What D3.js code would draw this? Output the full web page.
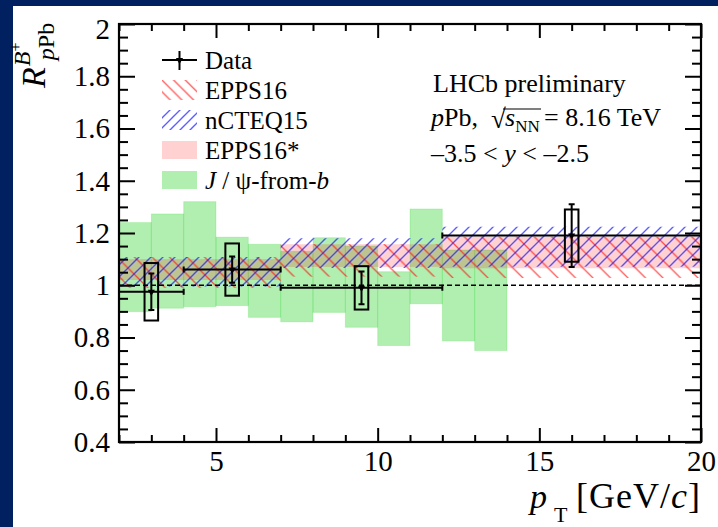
<!DOCTYPE html>
<html>
<head>
<meta charset="utf-8">
<script src="https://cdnjs.cloudflare.com/ajax/libs/d3/7.8.5/d3.min.js"></script>
<style>
body { margin: 0; background: #002060; }
svg { display: block; }
text { font-family: "Liberation Serif", "Times New Roman", serif; fill: #000; white-space: pre; }
</style>
</head>
<body>
<svg id="chart"></svg>
<script>
// ---- values ----
// LHCb B+ data points
var dataPt   = [3, 5.5, 9.5, 16];
var dataLo   = [2, 4, 7, 12];
var dataHi   = [4, 7, 12, 20];
var dataVal  = [0.975, 1.06, 0.99, 1.19];
var dataStat = [0.07, 0.05, 0.063, 0.12];
var dataSyst = [0.11, 0.10, 0.083, 0.10];

// theory bands (three pT bins)
var thLo = [2, 7, 12];
var thHi = [7, 12, 20];
var eppsStarLow  = [1.02, 1.07, 1.065];
var eppsStarHigh = [1.10, 1.157, 1.186];
var eppsLow  = [0.99, 1.033, 1.028];
var eppsHigh = [1.108, 1.157, 1.186];
var ncteqLow  = [0.995, 1.066, 1.071];
var ncteqHigh = [1.108, 1.18, 1.224];

// J/psi-from-b, 1 GeV bins from 2 to 14
var jpsiLo   = [2, 3, 4, 5, 6, 7, 8, 9, 10, 11, 12, 13];
var jpsiHigh = [1.24, 1.273, 1.32, 1.184, 1.157, 1.13, 1.182, 1.15, 1.052, 1.292, 1.135, 1.135];
var jpsiLow  = [0.899, 0.912, 0.918, 0.922, 0.877, 0.86, 0.896, 0.839, 0.769, 0.929, 0.787, 0.75];

var xTicks = [5, 10, 15, 20];
var yTicks = [0.4, 0.6, 0.8, 1, 1.2, 1.4, 1.6, 1.8, 2];

// ---- layout ----
var W = 718, H = 527;
var pL = 119, pR = 701, pT = 24, pB = 442;

var svg = d3.select("#chart").attr("width", W).attr("height", H);
svg.append("rect").attr("width", W).attr("height", H).attr("fill", "#002060");
svg.append("rect").attr("x", 13).attr("y", 6).attr("width", W - 13).attr("height", H - 6).attr("fill", "#fff");

var x = d3.scaleLinear().domain([2, 20]).range([pL, pR]);
var y = d3.scaleLinear().domain([0.4, 2]).range([pB, pT]);

// hatch patterns
var defs = svg.append("defs");
function hatch(id, p, dir, color, sw) {
  var pat = defs.append("pattern").attr("id", id)
    .attr("patternUnits", "userSpaceOnUse")
    .attr("width", p).attr("height", p);
  var d = dir === "back"
    ? "M0,0L" + p + "," + p + "M-1," + (p - 1) + "L1," + (p + 1) + "M" + (p - 1) + ",-1L" + (p + 1) + ",1"
    : "M0," + p + "L" + p + ",0M-1,1L1,-1M" + (p - 1) + "," + (p + 1) + "L" + (p + 1) + "," + (p - 1);
  pat.append("path").attr("d", d).attr("stroke", color).attr("stroke-width", sw).attr("stroke-opacity", 0.7);
}
hatch("redH", 17.5, "back", "#ff1010", 1.3);
hatch("blueH", 12, "fwd", "#1a1aff", 1.4);
hatch("redHL", 11.7, "back", "#ff1010", 1.3);
hatch("blueHL", 10, "fwd", "#1a1aff", 1.4);

var plot = svg.append("g");

// J/psi-from-b boxes
plot.selectAll(".jpsi").data(jpsiLo).enter().append("rect")
  .attr("x", function (d) { return x(d); })
  .attr("width", function (d) { return x(d + 1) - x(d); })
  .attr("y", function (d, i) { return y(jpsiHigh[i]); })
  .attr("height", function (d, i) { return y(jpsiLow[i]) - y(jpsiHigh[i]); })
  .attr("fill", "rgb(0,204,0)").attr("fill-opacity", 0.31)
  .attr("stroke", "rgb(0,204,0)").attr("stroke-opacity", 0.15).attr("stroke-width", 1);

// EPPS16* filled band
plot.selectAll(".estar").data(thLo).enter().append("rect")
  .attr("x", function (d) { return x(d); })
  .attr("width", function (d, i) { return x(thHi[i]) - x(d); })
  .attr("y", function (d, i) { return y(eppsStarHigh[i]); })
  .attr("height", function (d, i) { return y(eppsStarLow[i]) - y(eppsStarHigh[i]); })
  .attr("fill", "#ff0000").attr("fill-opacity", 0.18);

// EPPS16 hatched band
plot.selectAll(".epps").data(thLo).enter().append("rect")
  .attr("x", function (d) { return x(d); })
  .attr("width", function (d, i) { return x(thHi[i]) - x(d); })
  .attr("y", function (d, i) { return y(eppsHigh[i]); })
  .attr("height", function (d, i) { return y(eppsLow[i]) - y(eppsHigh[i]); })
  .attr("fill", "url(#redH)");

// nCTEQ15 hatched band
plot.selectAll(".ncteq").data(thLo).enter().append("rect")
  .attr("x", function (d) { return x(d); })
  .attr("width", function (d, i) { return x(thHi[i]) - x(d); })
  .attr("y", function (d, i) { return y(ncteqHigh[i]); })
  .attr("height", function (d, i) { return y(ncteqLow[i]) - y(ncteqHigh[i]); })
  .attr("fill", "url(#blueH)");

// unity line
plot.append("line")
  .attr("x1", x(2)).attr("x2", x(20)).attr("y1", y(1)).attr("y2", y(1))
  .attr("stroke", "#000").attr("stroke-width", 1.6).attr("stroke-dasharray", "5,3");

// data: syst boxes, bin widths, stat bars, markers
var dg = plot.selectAll(".pt").data(dataPt).enter().append("g");
dg.append("rect")
  .attr("x", function (d) { return x(d - 0.21); })
  .attr("width", function (d) { return x(d + 0.21) - x(d - 0.21); })
  .attr("y", function (d, i) { return y(dataVal[i] + dataSyst[i]); })
  .attr("height", function (d, i) { return y(dataVal[i] - dataSyst[i]) - y(dataVal[i] + dataSyst[i]); })
  .attr("fill", "none").attr("stroke", "#000").attr("stroke-width", 2);
dg.append("path")
  .attr("d", function (d, i) {
    var yv = y(dataVal[i]), x0 = x(dataLo[i]), x1 = x(dataHi[i]);
    var xc = x(d), yt = y(dataVal[i] + dataStat[i]), yb = y(dataVal[i] - dataStat[i]);
    return "M" + x0 + "," + yv + "H" + x1 +
      "M" + x0 + "," + (yv - 3) + "V" + (yv + 3) +
      "M" + x1 + "," + (yv - 3) + "V" + (yv + 3) +
      "M" + xc + "," + yt + "V" + yb +
      "M" + (xc - 3) + "," + yt + "H" + (xc + 3) +
      "M" + (xc - 3) + "," + yb + "H" + (xc + 3);
  })
  .attr("fill", "none").attr("stroke", "#000").attr("stroke-width", 2);
dg.append("path")
  .attr("d", d3.symbol(d3.symbolTriangle, 22))
  .attr("transform", function (d, i) { return "translate(" + x(d) + "," + y(dataVal[i]) + ") rotate(180)"; })
  .attr("fill", "#000");

// ---- axes ----
function minorVals(a, b, s) {
  var out = [];
  for (var v = a; v <= b + 1e-9; v += s) out.push(Math.round(v * 1000) / 1000);
  return out;
}
var xMinor = minorVals(2, 20, 1).filter(function (v) { return v % 5 !== 0; });
var yMinor = minorVals(0.4, 2, 0.05).filter(function (v) { return Math.abs(v * 5 - Math.round(v * 5)) > 1e-6; });

function styleAxis(g) {
  g.select(".domain").remove();
  g.selectAll("line").attr("stroke", "#000").attr("stroke-width", 2);
  g.selectAll("text").style("font-size", "29px").attr("fill", "#000");
}

svg.append("g").attr("transform", "translate(" + pL + ",0)")
  .call(d3.axisLeft(y).tickValues(yTicks).tickSizeInner(-16).tickSizeOuter(0).tickPadding(9).tickFormat(d3.format("~g")))
  .call(styleAxis)
  .selectAll("text").attr("dy", function (d) { return d === 2 ? "0.5em" : "0.32em"; });
svg.append("g").attr("transform", "translate(" + pL + ",0)")
  .call(d3.axisLeft(y).tickValues(yMinor).tickSizeInner(-9).tickSizeOuter(0).tickFormat(""))
  .call(styleAxis);
svg.append("g").attr("transform", "translate(" + pR + ",0)")
  .call(d3.axisRight(y).tickValues(yTicks).tickSizeInner(-16).tickSizeOuter(0).tickFormat(""))
  .call(styleAxis);
svg.append("g").attr("transform", "translate(" + pR + ",0)")
  .call(d3.axisRight(y).tickValues(yMinor).tickSizeInner(-9).tickSizeOuter(0).tickFormat(""))
  .call(styleAxis);

svg.append("g").attr("transform", "translate(0," + pB + ")")
  .call(d3.axisBottom(x).tickValues(xTicks).tickSizeInner(-14).tickSizeOuter(0).tickPadding(8).tickFormat(d3.format("d")))
  .call(styleAxis);
svg.append("g").attr("transform", "translate(0," + pB + ")")
  .call(d3.axisBottom(x).tickValues(xMinor).tickSizeInner(-7).tickSizeOuter(0).tickFormat(""))
  .call(styleAxis);
svg.append("g").attr("transform", "translate(0," + pT + ")")
  .call(d3.axisTop(x).tickValues(xTicks).tickSizeInner(-14).tickSizeOuter(0).tickFormat(""))
  .call(styleAxis);
svg.append("g").attr("transform", "translate(0," + pT + ")")
  .call(d3.axisTop(x).tickValues(xMinor).tickSizeInner(-7).tickSizeOuter(0).tickFormat(""))
  .call(styleAxis);

svg.append("rect").attr("x", pL).attr("y", pT)
  .attr("width", pR - pL).attr("height", pB - pT)
  .attr("fill", "none").attr("stroke", "#000").attr("stroke-width", 2.2);

// x title
svg.append("text").attr("x", 530).attr("y", 508).style("font-size", "34px").style("font-style", "italic").text("p");
svg.append("text").attr("x", 554).attr("y", 522).style("font-size", "22px").text("T");
var xt = svg.append("text").attr("x", 701).attr("y", 508).attr("text-anchor", "end")
  .style("font-size", "36px").style("letter-spacing", "1px");
xt.append("tspan").text("[GeV/");
xt.append("tspan").style("font-style", "italic").text("c");
xt.append("tspan").text("]");

// y title (rotated)
var yt = svg.append("g").attr("transform", "translate(45,88) rotate(-90)");
var rT = yt.append("text").style("font-size", "34px").style("font-style", "italic").text("R");
var rw = rT.node().getComputedTextLength() + 1;
var bT = yt.append("text").attr("x", rw).attr("y", -15).style("font-size", "24px").style("font-style", "italic").text("B");
var bw = bT.node().getComputedTextLength();
yt.append("text").attr("x", rw + bw).attr("y", -24).style("font-size", "16px").text("+");
var sT = yt.append("text").attr("x", rw + 6).attr("y", 9).style("font-size", "24px");
sT.append("tspan").style("font-style", "italic").text("p");
sT.append("tspan").text("Pb");

// ---- legend ----
var lx0 = 162, lx1 = 197, ltx = 205;
var legY = [60, 90, 120, 150, 180];
var lg = svg.append("g");
lg.append("path")
  .attr("d", "M" + lx0 + "," + legY[0] + "H" + lx1 + "M" + (lx0 + lx1) / 2 + "," + (legY[0] - 9) + "V" + (legY[0] + 10))
  .attr("stroke", "#000").attr("stroke-width", 2);
lg.append("path").attr("d", d3.symbol(d3.symbolTriangle, 22))
  .attr("transform", "translate(" + (lx0 + lx1) / 2 + "," + legY[0] + ") rotate(180)");
lg.append("rect").attr("x", lx0).attr("y", legY[1] - 10).attr("width", lx1 - lx0).attr("height", 20).attr("fill", "url(#redHL)");
lg.append("rect").attr("x", lx0).attr("y", legY[2] - 10).attr("width", lx1 - lx0).attr("height", 20).attr("fill", "url(#blueHL)");
lg.append("rect").attr("x", lx0).attr("y", legY[3] - 9).attr("width", lx1 - lx0).attr("height", 18).attr("fill", "#ff0000").attr("fill-opacity", 0.18);
lg.append("rect").attr("x", lx0).attr("y", legY[4] - 9).attr("width", lx1 - lx0).attr("height", 18).attr("fill", "rgb(0,204,0)").attr("fill-opacity", 0.31);

var legTxt = ["Data", "EPPS16", "nCTEQ15", "EPPS16*"];
legTxt.forEach(function (t, i) {
  lg.append("text").attr("x", ltx).attr("y", legY[i] + 8.5).style("font-size", "25px").text(t);
});
var jt = lg.append("text").attr("x", ltx).attr("y", legY[4] + 8.5).style("font-size", "25px");
jt.append("tspan").style("font-style", "italic").text("J");
jt.append("tspan").text(" / ");
jt.append("tspan").text("ψ");
jt.append("tspan").text("-from-");
jt.append("tspan").style("font-style", "italic").text("b");

// ---- LHCb label ----
var fs = "26px";
svg.append("text").attr("x", 433).attr("y", 92).style("font-size", fs).text("LHCb preliminary");

var t2 = svg.append("text").attr("x", 431).attr("y", 126).style("font-size", fs);
t2.append("tspan").style("font-style", "italic").text("p");
t2.append("tspan").text("Pb,");
svg.append("text").attr("x", 491).attr("y", 128).style("font-size", "27px").text("√");
var t3 = svg.append("text").attr("x", 505).attr("y", 126).style("font-size", fs);
t3.append("tspan").style("font-style", "italic").text("s");
t3.append("tspan").attr("dy", 6).style("font-size", "17px").text("NN");
svg.append("line").attr("x1", 503).attr("x2", 541).attr("y1", 109).attr("y2", 109)
  .attr("stroke", "#000").attr("stroke-width", 1.2);
svg.append("text").attr("x", 544).attr("y", 126).style("font-size", fs).text("= 8.16 TeV");

var t4 = svg.append("text").attr("x", 431).attr("y", 162).style("font-size", fs);
t4.append("tspan").text("\u20133.5 < ");
t4.append("tspan").style("font-style", "italic").text("y");
t4.append("tspan").text(" < \u20132.5");
</script>
</body>
</html>
